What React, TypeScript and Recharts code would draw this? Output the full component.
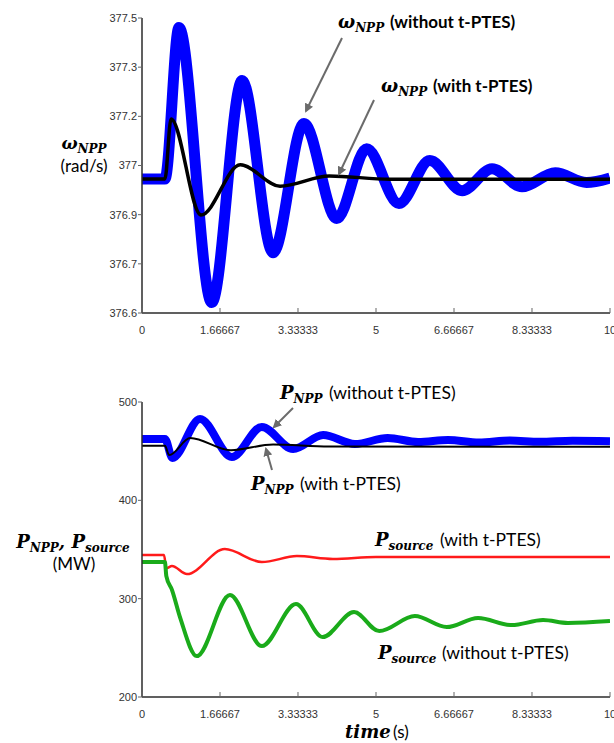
import { LineChart, Line, XAxis, YAxis } from "recharts";

// time axis (s)
const timeTicks = [0, 1.66667, 3.33333, 5, 6.66667, 8.33333, 10];

// top panel: rotor speed (rad/s)
const omegaTicks = [377.5, 377.35, 377.2, 377.05, 376.9, 376.75, 376.6];
const omegaTickLabels = ["377.5", "377.3", "377.2", "377", "376.9", "376.7", "376.6"];

const omegaNoTptesTime = [0, 0.49, 0.79, 1.49, 2.14, 2.8, 3.46, 4.16, 4.8, 5.49, 6.15, 6.84, 7.48, 8.12, 8.83, 9.5, 10];
const omegaNoTptes = [377.009, 377.009, 377.471, 376.632, 377.309, 376.784, 377.178, 376.888, 377.101, 376.934, 377.065, 376.973, 377.04, 376.985, 377.028, 376.998, 377.012];

const omegaTptesTime = [0, 0.49, 0.62, 1.26, 2.1, 2.95, 4.0, 5.3, 10];
const omegaTptes = [377.009, 377.009, 377.192, 376.899, 377.052, 376.987, 377.018, 377.008, 377.008];

// bottom panel: power (MW)
const powerTicks = [200, 300, 400, 500];

const pNppNoTptesTime = [0, 0.49, 0.65, 1.24, 1.92, 2.56, 3.23, 3.87, 4.55, 5.25, 5.9, 6.54, 7.2, 7.86, 8.5, 9.2, 10];
const pNppNoTptes = [462.5, 462.5, 443, 482.7, 444, 474.6, 452.2, 466.4, 457.3, 463.4, 459.3, 461.3, 458.8, 460.8, 459.5, 460.6, 460.2];

const pNppTptesTime = [0, 0.49, 0.58, 1.03, 1.9, 2.8, 4.0, 10];
const pNppTptes = [455.5, 455.5, 446, 463.4, 451, 456.8, 454.8, 454.5];

const pSourceTptesTime = [0, 0.47, 0.52, 0.64, 0.96, 1.77, 2.56, 3.31, 4.08, 5.0, 10];
const pSourceTptes = [344.4, 344.4, 331.1, 333.2, 325, 350.5, 337.2, 343.3, 340.3, 342.3, 342.3];

const pSourceNoTptesTime = [0, 0.49, 0.52, 0.64, 0.82, 1.17, 1.88, 2.56, 3.29, 3.86, 4.53, 5.07, 5.83, 6.51, 7.18, 7.9, 8.57, 9.1, 10];
const pSourceNoTptes = [337.2, 337.2, 323, 309, 280, 241.6, 303.7, 251.8, 294.5, 260.9, 286.4, 267, 282.3, 271.1, 280.3, 273.1, 278.2, 275.2, 277.2];

const toPoints = (t: number[], v: number[]) => t.map((x, i) => ({ t: x, v: v[i] }));

const W = 614;
const H = 343;
const axisColor = "#2b2b2b";
const tickFont = { fontFamily: "Liberation Sans, Arial, sans-serif", fontSize: 11, fill: "#333" };
const mathFont = "DejaVu Serif, serif";
const textFont = "Lato, Open Sans, sans-serif";

const XTick = (props: any) => {
  const { x, y, payload } = props;
  // axis line sits tickMargin (13px) above the label
  return (
    <g>
      <line x1={x} x2={x} y1={y - 13} y2={y - 18} stroke="#666" strokeWidth={1} />
      <text x={x} y={y} dy="0.71em" textAnchor="middle" {...tickFont}>
        {String(payload.value)}
      </text>
    </g>
  );
};

function Panel({
  domain,
  ticks,
  labels,
  children,
}: {
  domain: [number, number];
  ticks: number[];
  labels?: string[];
  children: React.ReactNode;
}) {
  return (
    <LineChart width={W} height={H} margin={{ top: 18, right: 4, bottom: 0, left: 0 }}>
      <XAxis
        type="number"
        dataKey="t"
        domain={[0, 10]}
        ticks={timeTicks}
        interval={0}
        height={30}
        tickSize={0}
        tickMargin={13}
        tick={<XTick />}
        axisLine={{ stroke: axisColor, strokeWidth: 1.5 }}
        tickLine={false}
        allowDataOverflow
      />
      <YAxis
        type="number"
        dataKey="v"
        domain={domain}
        ticks={ticks}
        interval={0}
        width={142}
        tickSize={4}
        tickMargin={1}
        tick={tickFont}
        tickFormatter={(v: number) => (labels ? labels[ticks.indexOf(v)] ?? String(v) : String(v))}
        axisLine={{ stroke: axisColor, strokeWidth: 1.5 }}
        tickLine={{ stroke: "#666" }}
        allowDataOverflow
      />
      {children}
    </LineChart>
  );
}

const Arrow = ({ x1, y1, x2, y2 }: { x1: number; y1: number; x2: number; y2: number }) => (
  <line x1={x1} y1={y1} x2={x2} y2={y2} stroke="#6b6b6b" strokeWidth={2} markerEnd="url(#head)" />
);

export default function App() {
  return (
    <div style={{ position: "absolute", left: 0, top: 0, width: 614, height: 743, background: "#fff" }}>
      <div style={{ position: "absolute", left: 0, top: 0 }}>
        <Panel domain={[376.6, 377.5]} ticks={omegaTicks} labels={omegaTickLabels}>
          <Line
            data={toPoints(omegaNoTptesTime, omegaNoTptes)}
            dataKey="v"
            type="monotone"
            stroke="#0000ff"
            strokeWidth={11}
            dot={false}
            isAnimationActive={false}
          />
          <Line
            data={toPoints(omegaTptesTime, omegaTptes)}
            dataKey="v"
            type="monotone"
            stroke="#000"
            strokeWidth={3.5}
            dot={false}
            isAnimationActive={false}
          />
        </Panel>
      </div>
      <div style={{ position: "absolute", left: 0, top: 384 }}>
        <Panel domain={[200, 500]} ticks={powerTicks}>
          <Line
            data={toPoints(pNppNoTptesTime, pNppNoTptes)}
            dataKey="v"
            type="monotone"
            stroke="#0000ff"
            strokeWidth={8}
            dot={false}
            isAnimationActive={false}
          />
          <Line
            data={toPoints(pNppTptesTime, pNppTptes)}
            dataKey="v"
            type="monotone"
            stroke="#000"
            strokeWidth={2}
            dot={false}
            isAnimationActive={false}
          />
          <Line
            data={toPoints(pSourceTptesTime, pSourceTptes)}
            dataKey="v"
            type="monotone"
            stroke="#ff1a1a"
            strokeWidth={2.5}
            dot={false}
            isAnimationActive={false}
          />
          <Line
            data={toPoints(pSourceNoTptesTime, pSourceNoTptes)}
            dataKey="v"
            type="monotone"
            stroke="#1aab1a"
            strokeWidth={4}
            dot={false}
            isAnimationActive={false}
          />
        </Panel>
      </div>

      <svg
        width={614}
        height={743}
        style={{ position: "absolute", left: 0, top: 0, pointerEvents: "none" }}
      >
        <defs>
          <marker id="head" markerWidth="9" markerHeight="9" refX="7" refY="4.5" orient="auto" markerUnits="userSpaceOnUse">
            <path d="M0,0 L9,4.5 L0,9 z" fill="#6b6b6b" />
          </marker>
        </defs>

        {/* top panel annotations */}
        <text x={338} y={28} fontFamily={mathFont} fontWeight="bold" fontStyle="italic" fontSize={18}>
          ω<tspan fontSize={12} dy={4}>NPP</tspan>
        </text>
        <text x={390} y={28} fontFamily={textFont} fontWeight="bold" fontSize={17}>(without t-PTES)</text>
        <Arrow x1={342} y1={38} x2={306} y2={111} />

        <text x={381} y={92} fontFamily={mathFont} fontWeight="bold" fontStyle="italic" fontSize={18}>
          ω<tspan fontSize={12} dy={4}>NPP</tspan>
        </text>
        <text x={433} y={92} fontFamily={textFont} fontWeight="bold" fontSize={17}>(with t-PTES)</text>
        <Arrow x1={374} y1={100} x2={339} y2={174} />

        <text x={84} y={149} textAnchor="middle" fontFamily={mathFont} fontWeight="bold" fontStyle="italic" fontSize={17}>
          ω<tspan fontSize={12} dy={4}>NPP</tspan>
        </text>
        <text x={84} y={172} textAnchor="middle" fontFamily={textFont} fontSize={17}>(rad/s)</text>

        {/* bottom panel annotations */}
        <text x={280} y={399} fontFamily={mathFont} fontWeight="bold" fontStyle="italic" fontSize={18}>
          P<tspan fontSize={12} dy={4}>NPP</tspan>
        </text>
        <text x={329} y={399} fontFamily={textFont} fontSize={17.5}>(without t-PTES)</text>
        <Arrow x1={293} y1={408} x2={274} y2={427} />

        <text x={251} y={490} fontFamily={mathFont} fontWeight="bold" fontStyle="italic" fontSize={18}>
          P<tspan fontSize={12} dy={4}>NPP</tspan>
        </text>
        <text x={300} y={490} fontFamily={textFont} fontSize={17.5}>(with t-PTES)</text>
        <Arrow x1={272} y1={470} x2={266} y2={449} />

        <text x={375} y={546} fontFamily={mathFont} fontWeight="bold" fontStyle="italic" fontSize={18}>
          P<tspan fontSize={12} dy={4}>source</tspan>
        </text>
        <text x={440} y={546} fontFamily={textFont} fontSize={17.5}>(with t-PTES)</text>

        <text x={378} y={659} fontFamily={mathFont} fontWeight="bold" fontStyle="italic" fontSize={18}>
          P<tspan fontSize={12} dy={4}>source</tspan>
        </text>
        <text x={442} y={659} fontFamily={textFont} fontSize={17.5}>(without t-PTES)</text>

        <text x={73} y={548} textAnchor="middle" fontFamily={mathFont} fontWeight="bold" fontStyle="italic" fontSize={18}>
          P<tspan fontSize={12} dy={4}>NPP</tspan>
          <tspan dy={-4}>, P</tspan>
          <tspan fontSize={12} dy={4}>source</tspan>
        </text>
        <text x={74} y={570} textAnchor="middle" fontFamily={textFont} fontSize={17}>(MW)</text>

        <text x={345} y={738} fontFamily={mathFont} fontWeight="bold" fontStyle="italic" fontSize={18}>time</text>
        <text x={393} y={738} fontFamily={textFont} fontSize={17}>(s)</text>
      </svg>
    </div>
  );
}
